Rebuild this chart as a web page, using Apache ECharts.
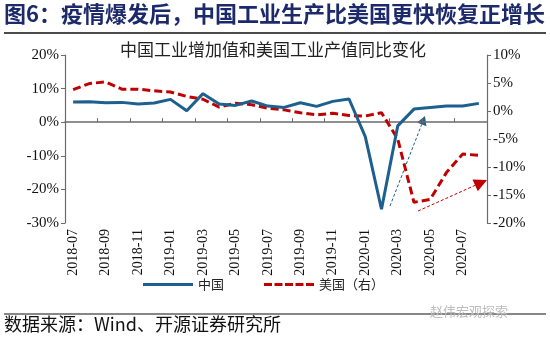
<!DOCTYPE html>
<html><head><meta charset="utf-8">
<script src="https://cdn.jsdelivr.net/npm/echarts@6/dist/echarts.min.js"></script>
<style>html,body{margin:0;padding:0;background:#fff}#c{width:550px;height:344px}</style>
</head><body><div id="c"></div>
<script>
const months = ['2018-07','2018-08','2018-09','2018-10','2018-11','2018-12',
  '2019-01','2019-02','2019-03','2019-04','2019-05','2019-06','2019-07','2019-08','2019-09','2019-10','2019-11','2019-12',
  '2020-01','2020-02','2020-03','2020-04','2020-05','2020-06','2020-07','2020-08'];
const chinaIVA = [6.0,6.1,5.8,5.9,5.4,5.7, 6.8,3.4,8.5,5.4,5.0,6.3,4.8,4.4,5.8,4.7,6.2,6.9, -4.3,-25.9,-1.1,3.9,4.4,4.8,4.8,5.6];
const usIP = [3.8,4.9,5.2,3.9,3.9,3.6, 3.4,2.6,2.1,0.7,1.4,1.1,0.5,0.2,-0.3,-0.7,-0.4,-0.8, -0.9,-0.3,-5.0,-16.3,-15.8,-11.0,-7.7,-7.9];
const leftTicks = {min:-30, max:20, interval:10};
const rightTicks = {min:-20, max:10, interval:5};
const seriesNames = ['中国','美国（右）'];

const BLUE = '#1d5f8e', RED = '#c00000';
const CJK = '"Noto Sans CJK SC", sans-serif';
const SERIF = '"Liberation Serif", "Times New Roman", serif';

const solidIcon = 'path://M0,0L50,0L50,3L0,3Z';
const dashIcon = 'path://M0,0L8,0L8,3L0,3Z M10.5,0L18.5,0L18.5,3L10.5,3Z M21,0L29,0L29,3L21,3Z M31.5,0L39.5,0L39.5,3L31.5,3Z M42,0L50,0L50,3L42,3Z';

function arrow(x0,y0,tx,ty,color,headLen,halfW,dash){
  const dx=tx-x0, dy=ty-y0, L=Math.hypot(dx,dy), ux=dx/L, uy=dy/L;
  const bx=tx-ux*headLen, by=ty-uy*headLen, px=-uy, py=ux;
  return [
    {type:'line', shape:{x1:x0,y1:y0,x2:bx,y2:by}, style:{stroke:color,lineWidth:1,lineDash:dash}},
    {type:'polygon', shape:{points:[[tx,ty],[bx+px*halfW,by+py*halfW],[bx-px*halfW,by-py*halfW]]}, style:{fill:color}}
  ];
}

const chart = echarts.init(document.getElementById('c'), null, {renderer:'canvas'});
chart.setOption({
  animation:false,
  backgroundColor:'#fff',
  grid:{left:65, right:63, top:55, bottom:121, containLabel:false},
  legend:{
    left:143, top:278, padding:0, itemWidth:50, itemHeight:3, itemGap:40,
    textStyle:{fontFamily:CJK, fontSize:13, color:'#222'},
    data:[{name:seriesNames[0], icon:solidIcon},{name:seriesNames[1], icon:dashIcon}]
  },
  xAxis:[
    {type:'category', data:months, boundaryGap:true, position:'bottom',
     axisLine:{show:false, onZero:false}, axisTick:{show:false},
     axisLabel:{interval:1, rotate:90, margin:6, fontFamily:SERIF, fontSize:14, color:'#111'}},
    {type:'category', data:months, boundaryGap:true, position:'bottom',
     axisLine:{show:true, onZero:true, onZeroAxisIndex:0, lineStyle:{color:'#6b6b6b', width:1.5}},
     axisTick:{show:true, interval:1, inside:true, length:4, lineStyle:{color:'#6b6b6b', width:1}},
     axisLabel:{show:false}}
  ],
  yAxis:[
    {type:'value', position:'left', min:leftTicks.min, max:leftTicks.max, interval:leftTicks.interval,
     splitLine:{show:false},
     axisLine:{show:true, lineStyle:{color:'#6b6b6b', width:1.2}},
     axisTick:{show:true, length:4, lineStyle:{color:'#6b6b6b'}},
     axisLabel:{formatter:'{value}%', fontFamily:SERIF, fontSize:15, color:'#111', margin:6}},
    {type:'value', position:'right', min:rightTicks.min, max:rightTicks.max, interval:rightTicks.interval,
     splitLine:{show:false},
     axisLine:{show:true, lineStyle:{color:'#6b6b6b', width:1.2}},
     axisTick:{show:true, length:4, lineStyle:{color:'#6b6b6b'}},
     axisLabel:{formatter:'{value}%', fontFamily:SERIF, fontSize:15, color:'#111', margin:6}}
  ],
  series:[
    {name:seriesNames[0], type:'line', data:chinaIVA, xAxisIndex:0, yAxisIndex:0,
     symbol:'none', showSymbol:false, lineStyle:{color:BLUE, width:3}, itemStyle:{color:BLUE}, z:3},
    {name:seriesNames[1], type:'line', data:usIP, xAxisIndex:0, yAxisIndex:1,
     symbol:'none', showSymbol:false, lineStyle:{color:RED, width:3, type:[8,4]}, itemStyle:{color:RED}, z:2}
  ],
  graphic:[
    {type:'text', left:4, top:3, style:{text:'图6：疫情爆发后，中国工业生产比美国更快恢复正增长', font:'bold 22px '+CJK, fill:'#1c2a6b'}},
    {type:'line', shape:{x1:4,y1:33,x2:546,y2:33}, style:{stroke:'#111', lineWidth:1.5}},
    {type:'text', x:273, y:50, style:{text:'中国工业增加值和美国工业产值同比变化', font:'17px '+CJK, fill:'#222', textAlign:'center', textVerticalAlign:'middle'}},
    ...arrow(390,206,425,116,BLUE,9,5,[3,2]),
    ...arrow(418,211,487,180,RED,13,6.5,[3,2]),
    {type:'line', shape:{x1:4,y1:314,x2:546,y2:314}, style:{stroke:'#111', lineWidth:1.2}},
    {type:'text', left:430, top:305, style:{text:'赵伟宏观探索', font:'13px '+CJK, fill:'#bdbdbd'}},
    {type:'text', left:4, top:315, style:{text:'数据来源：Wind、开源证券研究所', font:'18px '+CJK, fill:'#111'}}
  ]
});
</script></body></html>
